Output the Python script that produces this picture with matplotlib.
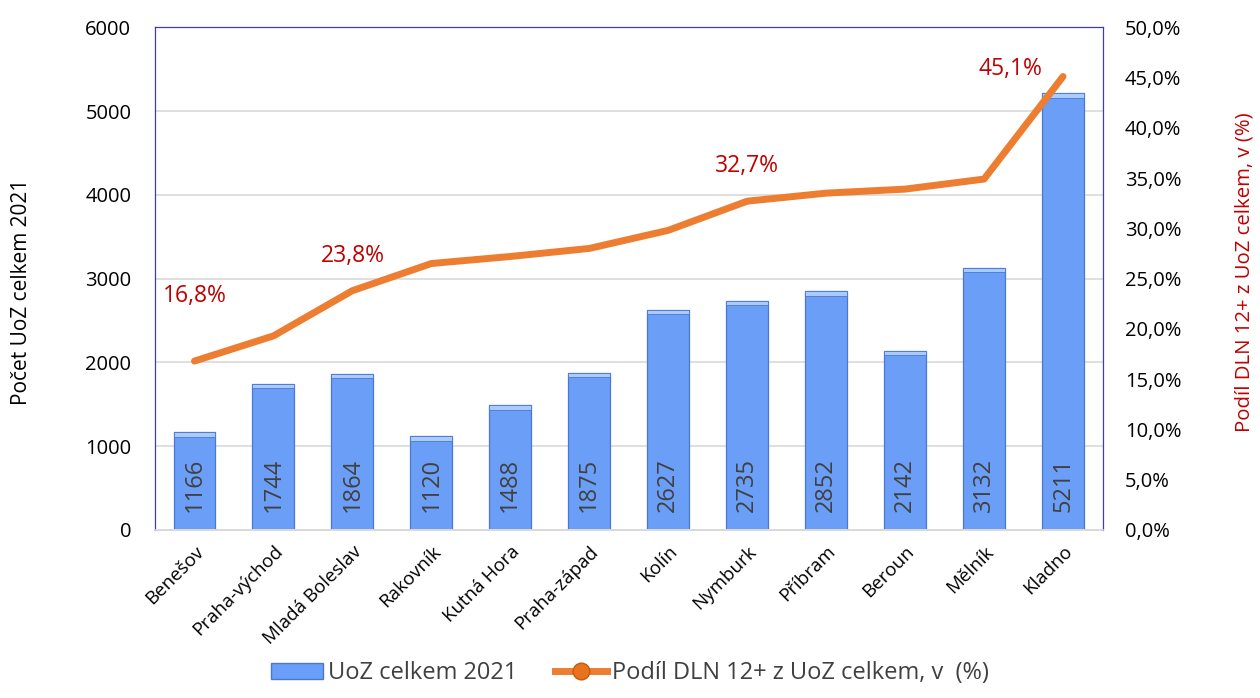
import matplotlib
matplotlib.use("Agg")
import matplotlib.pyplot as plt
from matplotlib.lines import Line2D
from matplotlib.patches import Patch
import numpy as np

plt.rcParams['font.family'] = ['Open Sans', 'DejaVu Sans']

districts = ["Benešov", "Praha-východ", "Mladá Boleslav", "Rakovník", "Kutná Hora",
             "Praha-západ", "Kolín", "Nymburk", "Příbram", "Beroun", "Mělník", "Kladno"]
uoz_2021 = [1166, 1744, 1864, 1120, 1488, 1875, 2627, 2735, 2852, 2142, 3132, 5211]
share_dln12 = [16.8, 19.3, 23.8, 26.5, 27.2, 28.0, 29.8, 32.7, 33.5, 33.9, 34.9, 45.1]
labelled = {0: (0, 38), 2: (0, 16), 7: (0, 17), 11: (-38, -3.5)}

fig = plt.figure(figsize=(12.6, 6.98), dpi=100)
ax = fig.add_axes([0.123, 0.2407, 0.752, 0.7203])
ax2 = ax.twinx()

x = np.arange(len(districts))
bw = 0.53
bars = ax.bar(x, uoz_2021, width=bw, color="#6A9EF7", edgecolor="#4A78D0",
              linewidth=0.9, zorder=2)
for b in bars:
    ax.bar(b.get_x() + b.get_width() / 2, 55, bottom=b.get_height() - 55,
           width=bw, color="#A9CBFF", edgecolor="#4A78D0", linewidth=0.6, zorder=3)

for xi, v in zip(x, uoz_2021):
    ax.annotate(f"{v}", (xi, 0), xytext=(0, 13), textcoords="offset points",
                rotation=90, ha="center", va="bottom",
                fontsize=17, color="#404040", zorder=4)

ax.set_xlim(-0.5, len(districts) - 0.5)
ax.set_ylim(0, 6000)
ax.set_yticks(np.arange(0, 6001, 1000))
ax.tick_params(axis='y', labelsize=14.5, length=0, pad=17)
ax.grid(axis='y', color="#D9D9D9", linewidth=1.2, zorder=0)
ax.set_axisbelow(True)
ax.set_xticks(x)
ax.set_xticklabels(districts, rotation=45, ha="right", rotation_mode="anchor",
                   fontsize=13.5, color="#000000")
ax.tick_params(axis='x', length=0, pad=9)
ax.set_ylabel("Počet UoZ celkem 2021", fontsize=15)
ax.yaxis.set_label_coords(-0.130, 0.473)

ax2.plot(x, share_dln12, color="#ED7D31", linewidth=5, solid_capstyle="round",
         solid_joinstyle="round", zorder=5)
ax2.set_ylim(0, 50)
ax2.set_yticks(np.arange(0, 50.1, 5))
ax2.set_yticklabels([f"{t:.1f}%".replace(".", ",") for t in np.arange(0, 50.1, 5)])
ax2.tick_params(axis='y', labelsize=14.5, length=0, pad=16)
ax2.set_ylabel("Podíl DLN 12+ z UoZ celkem, v (%)", fontsize=14.7, color="#C00000",
               rotation=90)
ax2.yaxis.set_label_coords(1.139, 0.513)
for i, (dx, dy) in labelled.items():
    ax2.annotate(f"{share_dln12[i]:.1f}%".replace(".", ","), (x[i], share_dln12[i]),
                 xytext=(dx, dy), textcoords="offset points", ha="center",
                 va="bottom", fontsize=16.5, color="#C00000")

for a in (ax, ax2):
    a.spines['left'].set_color("#3333FF")
    a.spines['right'].set_color("#3333FF")
    a.spines['top'].set_color("#3333FF")
    a.spines['bottom'].set_color("#D9D9D9")
    a.spines['bottom'].set_linewidth(1.2)

handles = [Patch(facecolor="#6A9EF7", edgecolor="#4A78D0"),
           Line2D([0], [0], color="#ED7D31", linewidth=5, marker="o",
                  markersize=12, markerfacecolor="#E8731E", markeredgecolor="#C55A11")]
fig.legend(handles, ["UoZ celkem 2021", "Podíl DLN 12+ z UoZ celkem, v  (%)"],
           loc="lower center", bbox_to_anchor=(0.5, -0.012), ncol=2, frameon=False,
           fontsize=17, handlelength=2.2, handletextpad=0.2, columnspacing=1.6,
           labelcolor="#404040")

fig.savefig("out.png", dpi=100)
